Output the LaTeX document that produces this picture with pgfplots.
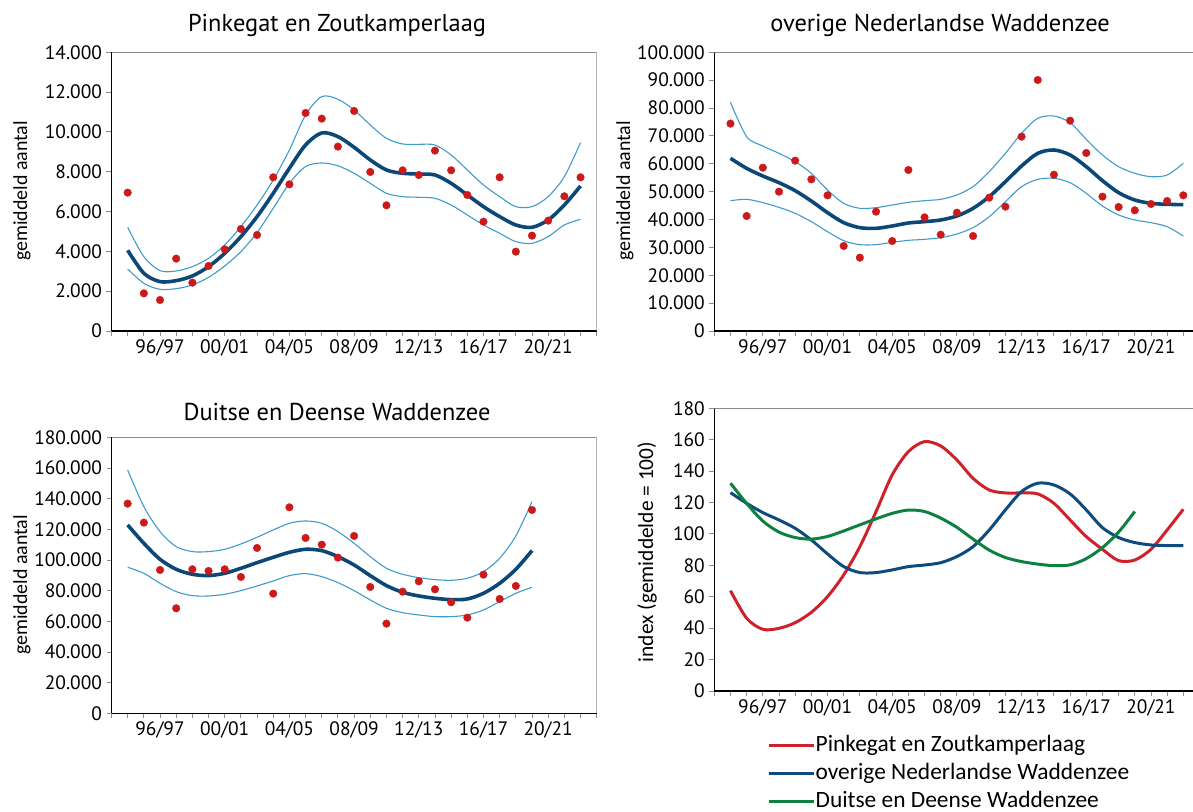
\documentclass[border=0pt]{standalone}
\usepackage{fontspec}
\setmainfont{PT Sans}
\newfontfamily\calfont{Carlito}
\usepackage{pgfplots}
\usepackage{pgfplotstable}
\pgfplotsset{compat=1.18}

\definecolor{ptred}{HTML}{CC1A1A}
\definecolor{trendblue}{HTML}{0B4777}
\definecolor{bandblue}{HTML}{3E9BCB}
\definecolor{idxred}{HTML}{D0202A}
\definecolor{idxblue}{HTML}{0D4A7E}
\definecolor{idxgreen}{HTML}{0E8040}
\definecolor{tickgray}{HTML}{8C8C8C}

\pgfplotstableread{
x pts trend up lo
1 6950 4053 5208 3115
2 1892 2898 3734 2395
3 1557 2479 3031 2093
4 3634 2529 3014 2127
5 2428 2764 3232 2311
6 3266 3233 3651 2696
7 4103 3902 4321 3265
8 5124 4740 5241 3986
9 4823 5745 6330 4940
10 7720 6917 7586 6163
11 7368 8174 9093 7418
12 10952 9345 10851 8260
13 10667 9950 11773 8440
14 9261 9765 11640 8300
15 11052 9228 11103 7921
16 7988 8593 10349 7418
17 6313 8089 9679 6917
18 8072 7921 9394 6749
19 7837 7887 9378 6716
20 9060 7837 9344 6665
21 8072 7418 8842 6330
22 6833 6833 8089 5829
23 5493 6246 7335 5326
24 7720 5745 6749 4907
25 3986 5325 6246 4489
26 4790 5208 6246 4404
27 5544 5576 6749 4740
28 6767 6330 7753 5326
29 7720 7285 9462 5610
}\tabPZ

\pgfplotstableread{
x pts trend up lo
1 74400 61950 82050 46760
2 41260 58360 69730 47240
3 58600 55610 66380 46050
4 49990 53220 63750 44370
5 61120 50350 60760 42220
6 54420 46640 56570 39230
7 48680 42460 50590 35640
8 30500 38870 45810 32410
9 26310 37080 44010 30980
10 42820 36840 44250 30980
11 32290 37670 45210 31810
12 57770 38750 46170 32530
13 40780 39230 46760 32890
14 34560 39830 47240 33490
15 42460 41260 48800 34800
16 34090 44010 51790 37080
17 47840 48200 57170 41020
18 44610 53580 63750 46400
19 69730 59200 70920 51790
20 90060 63750 76300 54420
21 56090 64940 77140 54780
22 75470 63150 74750 53220
23 63870 58960 68770 49390
24 48200 53940 63150 44850
25 44490 49630 58960 41620
26 43300 47000 56570 39830
27 45570 45810 55370 38870
28 46640 45450 55970 37430
29 48680 45330 60160 34090
}\tabNL

\pgfplotstableread{
x pts trend up lo
1 136740 122830 158700 95220
2 124350 110870 134790 91310
3 93480 100440 118480 84790
4 68480 93920 108700 79350
5 93920 90660 105440 76740
6 92830 89790 105440 76520
7 93920 91310 106960 77610
8 88920 94570 110440 80000
9 107830 98260 114790 83050
10 78050 101740 119570 86310
11 134350 105000 123920 89790
12 114350 106960 125440 91090
13 110000 106090 123920 89130
14 101530 102180 118480 85220
15 115660 96740 110870 80000
16 82390 89790 102180 73920
17 58480 83260 94570 68480
18 79350 78920 90660 65650
19 86090 76520 88480 64130
20 80870 75000 87180 63050
21 72390 74130 86740 63050
22 62390 74570 88050 64130
23 90440 78260 92400 67390
24 74570 84790 101090 72830
25 83050 93920 115660 78260
26 132610 106090 138050 82170
}\tabDD

\pgfplotstableread{
x red blue
1 63.9 126.3
2 46.3 119.5
3 39.3 113.6
4 39.9 108.9
5 43.5 103.6
6 50.1 96.2
7 60.1 87.3
8 73.9 79.2
9 91.9 75.4
10 114.2 75.4
11 137.6 77.1
12 152.4 79.2
13 158.8 80.2
14 156.0 81.7
15 147.1 85.6
16 135.4 91.9
17 128.0 102.5
18 126.1 115.3
19 126.1 127.0
20 125.5 132.3
21 119.5 131.2
22 108.9 125.5
23 98.3 115.3
24 90.2 104.0
25 83.0 97.7
26 83.4 94.5
27 90.2 93.0
28 102.5 92.6
29 115.7 92.6
}\tabIdxA

\pgfplotstableread{
x green
1 132.3
2 119.4
3 108.2
4 101.2
5 97.7
6 96.7
7 98.4
8 101.9
9 105.8
10 109.6
11 113.1
12 115.2
13 114.3
14 110.1
15 104.2
16 96.7
17 89.7
18 85.0
19 82.4
20 80.8
21 79.8
22 80.3
23 84.3
24 91.3
25 101.2
26 114.3
}\tabIdxB

\pgfplotsset{
  panel/.style={
    scale only axis, anchor=south west,
    xmin=0, xmax=30, ymin=0,
    axis x line*=bottom, axis y line*=left,
    axis line style={black, line width=1.2pt},
    xtick={3,7,...,27},
    xticklabels={96/97,00/01,04/05,08/09,12/13,16/17,20/21},
    minor xtick={0,...,30},
    tick align=outside,
    major tick length=5bp, minor tick length=5bp,
    every tick/.style={tickgray, line width=0.9pt},
    ticklabel style={font=\fontsize{19.5}{19.5}\selectfont},
    yticklabel style={xshift=-1bp},
    /pgf/number format/.cd, fixed, precision=0, 1000 sep={.}, assume math mode=true,
    /pgfplots/.cd,
    scaled y ticks=false,
  },
  trend/.style={trendblue, line width=3.6pt, smooth, no markers},
  band/.style={bandblue, line width=1.1pt, smooth, no markers},
  pts/.style={only marks, mark=*, mark size=3.8bp, ptred, mark options={draw=ptred, fill=ptred}},
  idx/.style={line width=3pt, smooth, no markers},
}

\begin{document}
\begin{tikzpicture}
\useasboundingbox (0,0) rectangle (1193bp,812bp);

% Top left
\begin{axis}[panel, at={(111.5bp,481bp)}, width=485.2bp, height=278.7bp,
  ymax=14000, ytick={0,2000,...,14000}]
  \addplot[band] table[x=x,y=up] {\tabPZ};
  \addplot[band] table[x=x,y=lo] {\tabPZ};
  \addplot[trend] table[x=x,y=trend] {\tabPZ};
  \addplot[pts] table[x=x,y=pts] {\tabPZ};
  \draw[tickgray, line width=0.9pt] (rel axis cs:0,1) -- (rel axis cs:1,1) -- (rel axis cs:1,0);
\end{axis}

% Top right
\begin{axis}[panel, at={(714.3bp,481bp)}, width=478.7bp, height=278.7bp,
  xmax=29.6, ymax=100000, ytick={0,10000,...,100000}]
  \addplot[band] table[x=x,y=up] {\tabNL};
  \addplot[band] table[x=x,y=lo] {\tabNL};
  \addplot[trend] table[x=x,y=trend] {\tabNL};
  \addplot[pts] table[x=x,y=pts] {\tabNL};
  \draw[tickgray, line width=0.9pt] (rel axis cs:0,1) -- (rel axis cs:1,1);
\end{axis}

% Bottom left
\begin{axis}[panel, at={(111.5bp,98.7bp)}, width=485.2bp, height=276bp,
  ymax=180000, ytick={0,20000,...,180000}]
  \addplot[band] table[x=x,y=up] {\tabDD};
  \addplot[band] table[x=x,y=lo] {\tabDD};
  \addplot[trend] table[x=x,y=trend] {\tabDD};
  \addplot[pts] table[x=x,y=pts] {\tabDD};
  \draw[tickgray, line width=0.9pt] (rel axis cs:0,1) -- (rel axis cs:1,1) -- (rel axis cs:1,0);
\end{axis}

% Bottom right
\begin{axis}[panel, at={(714.3bp,121bp)}, width=478.7bp, height=282.7bp,
  xmax=29.6, ymax=180, ytick={0,20,...,180},
  legend style={at={(rel axis cs:0.11,-0.152)}, anchor=north west, draw=none, fill=none,
    font=\calfont\fontsize{23.5}{23.5}\selectfont, row sep=5.5bp, inner sep=0pt,
    nodes={inner sep=0.5bp, text height=16.5bp, text depth=5bp}},
  legend cell align=left,
  legend image code/.code={\draw[#1, line width=3pt] (0bp,0bp) -- (45bp,0bp);}]
  \addplot[idx, idxred] table[x=x,y=red] {\tabIdxA};
  \addlegendentry{Pinkegat en Zoutkamperlaag}
  \addplot[idx, idxblue] table[x=x,y=blue] {\tabIdxA};
  \addlegendentry{overige Nederlandse Waddenzee}
  \addplot[idx, idxgreen] table[x=x,y=green] {\tabIdxB};
  \addlegendentry{Duitse en Deense Waddenzee}
  \draw[tickgray, line width=0.9pt] (rel axis cs:0,1) -- (rel axis cs:1,1);
\end{axis}

% Titles
\node[font=\fontsize{24.5}{24.5}\selectfont] at (337bp,787bp) {Pinkegat en Zoutkamperlaag};
\node[font=\fontsize{24.5}{24.5}\selectfont] at (940bp,787bp) {overige Nederlandse Waddenzee};
\node[font=\fontsize{24.5}{24.5}\selectfont] at (337bp,400bp) {Duitse en Deense Waddenzee};

% Y labels
\node[font=\calfont\fontsize{20}{20}\selectfont, rotate=90] at (22bp,621bp) {gemiddeld aantal};
\node[font=\calfont\fontsize{20}{20}\selectfont, rotate=90] at (625bp,621bp) {gemiddeld aantal};
\node[font=\calfont\fontsize{20}{20}\selectfont, rotate=90] at (22bp,227bp) {gemiddeld aantal};
\node[font=\calfont\fontsize{21.5}{21.5}\selectfont, rotate=90] at (647bp,260bp) {index (gemiddelde = 100)};
\end{tikzpicture}
\end{document}
